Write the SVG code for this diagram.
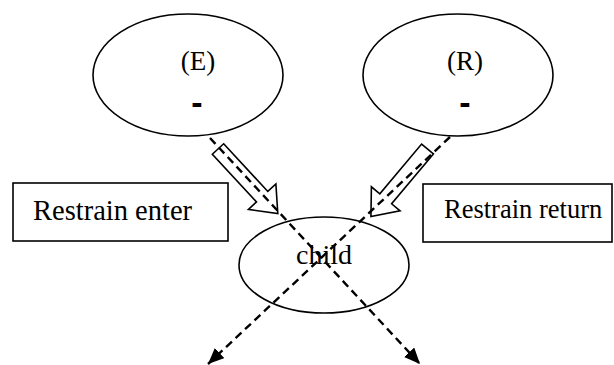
<svg xmlns="http://www.w3.org/2000/svg" width="614" height="365" viewBox="0 0 614 365">
<style>
.shape{fill:#fff;stroke:#000;stroke-width:1.6}
.t{font-family:"Liberation Serif","Times New Roman",serif;fill:#000}
.bar{font-family:"Liberation Sans",Arial,sans-serif;font-weight:bold;fill:#000}
.dash{stroke:#000;stroke-width:2.4;stroke-dasharray:8 5;fill:none}
.blk{fill:#fff;stroke:#000;stroke-width:1.6;stroke-linejoin:miter}
</style>
<defs>
<marker id="ah" viewBox="0 0 16 14" refX="16" refY="7" markerWidth="16" markerHeight="14" markerUnits="userSpaceOnUse" orient="auto">
<path d="M0,0 L16,7 L0,14 z" fill="#000"/>
</marker>
<polygon id="block" points="0,-7.7 65,-7.7 65,-18.7 88,0 65,18.7 65,7.7 0,7.7"/>
</defs>
<g id="nodeE">
<ellipse class="shape" cx="188" cy="75" rx="95" ry="61"/>
<text class="t" x="198" y="70" font-size="27" text-anchor="middle">(E)</text>
<text class="bar" x="197" y="114" font-size="34" text-anchor="middle">-</text>
</g>
<g id="nodeR">
<ellipse class="shape" cx="458" cy="75" rx="95" ry="61"/>
<text class="t" x="465" y="70" font-size="27" text-anchor="middle">(R)</text>
<text class="bar" x="465" y="114" font-size="34" text-anchor="middle">-</text>
</g>
<g id="restrainEnter">
<rect class="shape" x="13" y="183" width="215" height="58"/>
<text class="t" x="33" y="220" font-size="28.5">Restrain enter</text>
</g>
<g id="restrainReturn">
<rect class="shape" x="423" y="184" width="189" height="58"/>
<text class="t" x="444" y="218" font-size="26.5">Restrain return</text>
</g>
<g id="child">
<ellipse class="shape" cx="324" cy="265" rx="85" ry="48"/>
</g>
<g id="connectors">
<use href="#block" class="blk" transform="translate(218,149) rotate(47.2)"/>
<use href="#block" class="blk" transform="translate(427.5,149) rotate(130)"/>
<line class="dash" x1="210" y1="138" x2="420" y2="364" marker-end="url(#ah)"/>
<line class="dash" x1="450" y1="137" x2="208" y2="364" marker-end="url(#ah)"/>
</g>
<g id="childLabel">
<text class="t" x="324" y="264" font-size="28" text-anchor="middle">child</text>
</g>
</svg>
